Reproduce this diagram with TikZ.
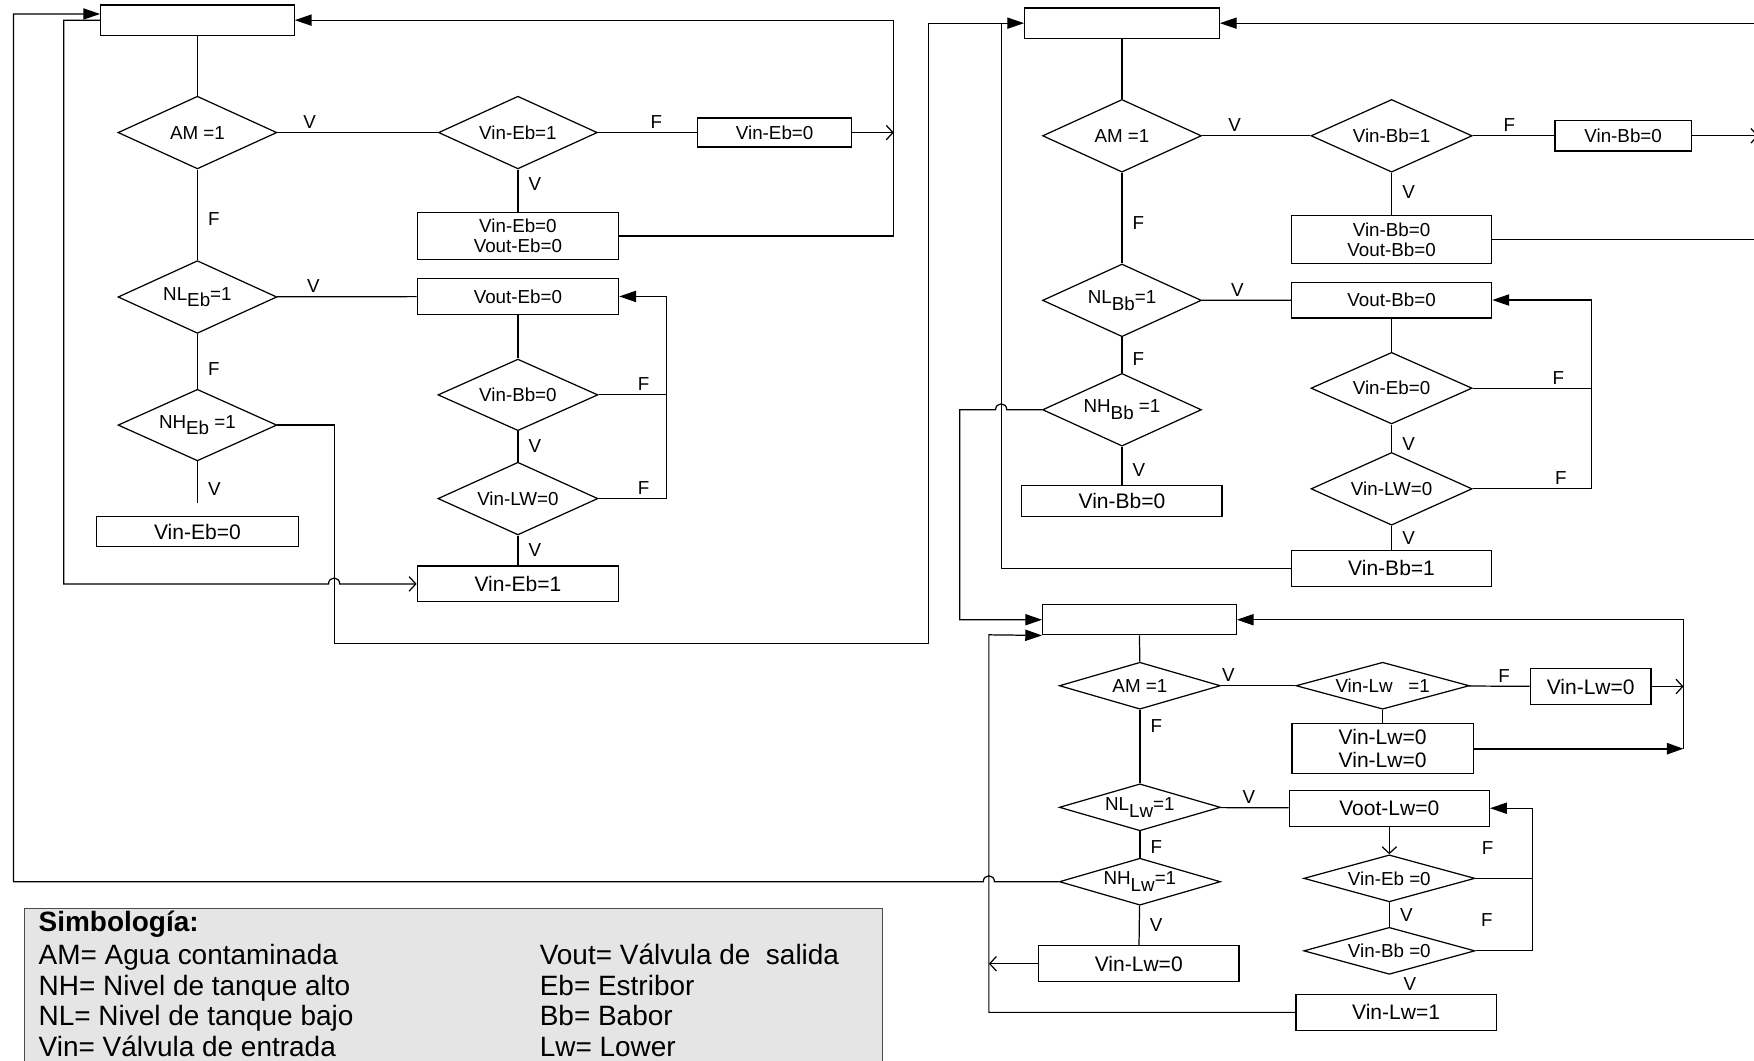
\documentclass[tikz,border=0pt]{standalone}
\usepackage{fontspec}
\setmainfont{Liberation Sans}
\usetikzlibrary{arrows.meta,positioning,calc,shapes.geometric}
\newcommand{\sml}{\fontsize{8.4pt}{9pt}\selectfont}
\newcommand{\bigtxt}{\fontsize{9.4pt}{10.5pt}\selectfont}
\newcommand{\legfnt}{\fontsize{12.5pt}{13.75pt}\selectfont}
\newcommand{\sbx}[1]{\raisebox{-3pt}{#1}}

\begin{document}
\begin{tikzpicture}[x=0.5pt,y=-0.5pt,line width=0.55pt,
  box/.style={draw,inner sep=0pt,align=center,font=\sml},
  bbox/.style={box,font=\bigtxt},
  dia/.style={draw,diamond,aspect=2.2,inner sep=0pt,align=center,font=\sml},
  flat/.style={dia,aspect=3.5},
  sz/.style 2 args={minimum width=#1*0.5pt,minimum height=#2*0.5pt},
  lbl/.style={inner sep=1.5pt,font=\sml},
  legtx/.style={inner sep=0pt,font=\legfnt,anchor=base west},
  tri/.style={-{Triangle[length=7.5pt,width=5pt]}},
  opn/.style={-{Straight Barb[length=3pt,width=6.5pt]}}]
\useasboundingbox (0,0) rectangle (1568,948);

% Estribor
\node[box,sz={173}{27}] (ebtop) at (176.5,18) {};
\node[dia,sz={142}{65}] (ebam) at (176.5,118.5) {AM =1};
\node[dia,sz={142}{65}] (ebvin) at (463,118.5) {Vin-Eb=1};
\node[box,sz={138}{26}] (ebcl) at (692.5,118.5) {Vin-Eb=0};
\node[box,sz={180}{42}] (ebclo) at (463,211) {Vin-Eb=0\\Vout-Eb=0};
\node[dia,sz={142}{65}] (ebnl) at (176.5,265.5) {NL\sbx{Eb}=1};
\node[box,sz={180}{32}] (ebvout) at (463,265) {Vout-Eb=0};
\node[dia,sz={142}{64}] (ebnh) at (176.5,380) {NH\sbx{Eb} =1};
\node[bbox,sz={180}{27}] (ebshut) at (176.5,475.3) {Vin-Eb=0};
\node[dia,sz={143}{64}] (ebvbb) at (463,353) {Vin-Bb=0};
\node[dia,sz={143}{65}] (ebvlw) at (463,445.7) {Vin-LW=0};
\node[bbox,sz={180}{32}] (ebopen) at (463,522) {Vin-Eb=1};

\coordinate (outl) at (12,12.5);
\coordinate (ebin) at (57,522);
\coordinate (ebjmp) at (298.7,522);
\coordinate (ebret) at (799,18);
\coordinate (ebfb) at (596,265);
\coordinate (ebnhv) at (176.5,450);
\coordinate (ebx) at (298.7,575);
\coordinate (bbin) at (830,20.7);

% Babor
\node[box,sz={174}{27}] (bbtop) at (1003,20.7) {};
\node[dia,sz={142}{65}] (bbam) at (1003,121.4) {AM =1};
\node[dia,sz={144}{65}] (bbvin) at (1244,121.4) {Vin-Bb=1};
\node[box,sz={122}{27}] (bbcl) at (1451,121.4) {Vin-Bb=0};
\node[box,sz={179}{43}] (bbclo) at (1244,214) {Vin-Bb=0\\Vout-Bb=0};
\node[dia,sz={142}{65}] (bbnl) at (1003,268.5) {NL\sbx{Bb}=1};
\node[box,sz={179}{32}] (bbvout) at (1244,268.2) {Vout-Bb=0};
\node[dia,sz={142}{65}] (bbnh) at (1003,366.3) {NH\sbx{Bb} =1};
\node[bbox,sz={179}{28}] (bbshut) at (1003,448) {Vin-Bb=0};
\node[dia,sz={144}{64}] (bbveb) at (1244,347) {Vin-Eb=0};
\node[dia,sz={144}{65}] (bbvlw) at (1244,437) {Vin-LW=0};
\node[bbox,sz={179}{32}] (bbopen) at (1244,508) {Vin-Bb=1};

\coordinate (bbin2) at (895,20.7);
\coordinate (bbjmp) at (895,366.3);
\coordinate (lwin) at (858,554);
\coordinate (bbfb) at (1423,268.2);
\coordinate (bbR) at (1572,20.7);

% Lower
\node[box,sz={173}{27}] (lwtop) at (1018.6,554) {};
\node[flat,sz={144}{42}] (lwam) at (1019,613) {AM =1};
\node[flat,sz={155}{42}] (lwvin) at (1236,613) {Vin-Lw~~~=1};
\node[bbox,sz={108}{32}] (lwcl) at (1422,613.7) {Vin-Lw=0};
\node[bbox,sz={162}{45}] (lwclo) at (1236,669.3) {Vin-Lw=0\\Vin-Lw=0};
\node[flat,sz={144}{42}] (lwnl) at (1019,721.7) {NL\sbx{Lw}=1};
\node[bbox,sz={179}{32}] (lwvout) at (1242,722.5) {Voot-Lw=0};
\node[flat,sz={144}{42}] (lwnh) at (1019,788.2) {NH\sbx{Lw}=1};
\node[bbox,sz={179}{32}] (lwshut) at (1018,861.5) {Vin-Lw=0};
\node[flat,sz={153}{42}] (lwveb) at (1242,785.2) {Vin-Eb =0};
\node[flat,sz={153}{42}] (lwvbb) at (1242,850) {Vin-Bb =0};
\node[bbox,sz={179}{32}] (lwopen) at (1248,905) {Vin-Lw=1};

\coordinate (lwret) at (884,567.5);
\coordinate (lwjmp) at (884,788.2);
\coordinate (lwR) at (1505,554);
\coordinate (lwfb) at (1370,722.5);

% Estribor connectors
\draw (ebtop) -- (ebam);
\draw (ebam) -- node[lbl,above,pos=0.2]{V} (ebvin);
\draw (ebvin) -- node[lbl,above,pos=0.59]{F} (ebcl);
\draw[opn] (ebcl) -- (ebcl -| ebret);
\draw[tri] (ebclo) -| (ebret) -- (ebtop);
\draw (ebvin) -- node[lbl,right=3pt,pos=0.35]{V} (ebclo);
\draw (ebam) -- node[lbl,right=3pt,pos=0.55]{F} (ebnl);
\draw (ebnl) -- node[lbl,above,pos=0.26]{V} (ebvout);
\draw (ebnl) -- node[lbl,right=3pt,pos=0.65]{F} (ebnh);
\draw (ebnh) -- node[lbl,right=3pt,pos=0.65]{V} (ebnhv);
\draw (ebvout) -- (ebvbb);
\draw (ebvbb) -- node[lbl,right=3pt]{V} (ebvlw);
\draw (ebvlw) -- node[lbl,right=3pt]{V} (ebopen);
\draw (ebvbb) -- node[lbl,above,pos=0.66]{F} (ebvbb -| ebfb);
\draw[tri] (ebvlw) -| node[lbl,above,pos=0.33]{F} (ebfb) -- (ebvout);
\draw[opn] (ebtop.west) -| (ebin) -- ($(ebjmp)+(-5,0)$) .. controls ($(ebjmp)+(-5,-7)$) and ($(ebjmp)+(5,-7)$) .. ($(ebjmp)+(5,0)$) -- (ebopen);
\draw[tri] (ebnh) -| (ebx) -| (bbin) -- (bbtop);
\draw[tri] (lwnh) -- ($(lwjmp)+(5,0)$) .. controls ($(lwjmp)+(5,-7)$) and ($(lwjmp)+(-5,-7)$) .. ($(lwjmp)+(-5,0)$) -| (outl) -- (ebtop.west |- outl);

% Babor connectors
\draw (bbtop) -- (bbam);
\draw (bbam) -- node[lbl,above,pos=0.3]{V} (bbvin);
\draw (bbvin) -- node[lbl,above,pos=0.45]{F} (bbcl);
\draw[opn] (bbcl) -- (bbcl -| bbR);
\draw (bbclo) -- (bbclo -| bbR);
\draw[tri] (bbR) -- (bbtop);
\draw (bbvin) -- node[lbl,right=3pt,pos=0.45]{V} (bbclo);
\draw (bbam) -- node[lbl,right=3pt,pos=0.55]{F} (bbnl);
\draw (bbnl) -- node[lbl,above,pos=0.4]{V} (bbvout);
\draw (bbnl) -- node[lbl,right=3pt,pos=0.6]{F} (bbnh);
\draw (bbnh) -- node[lbl,right=3pt,pos=0.6]{V} (bbshut);
\draw (bbvout) -- (bbveb);
\draw (bbveb) -- node[lbl,right=3pt,pos=0.7]{V} (bbvlw);
\draw (bbvlw) -- node[lbl,right=3pt]{V} (bbopen);
\draw (bbveb) -- node[lbl,above,pos=0.72]{F} (bbveb -| bbfb);
\draw[tri] (bbvlw) -| node[lbl,above,pos=0.37]{F} (bbfb) -- (bbvout);
\draw (bbopen) -| (bbin2);
\draw[tri] (bbnh) -- ($(bbjmp)+(5,0)$) .. controls ($(bbjmp)+(5,-7)$) and ($(bbjmp)+(-5,-7)$) .. ($(bbjmp)+(-5,0)$) -| (lwin) -- (lwtop);

% Lower connectors
\draw (lwtop) -- (lwam);
\draw (lwam) -- node[lbl,above,pos=0.1]{V} (lwvin);
\draw (lwvin) -- node[lbl,above,pos=0.58]{F} (lwcl);
\draw[opn] (lwcl) -- (lwcl -| lwR);
\draw[tri,line width=1pt] (lwclo) -- (lwclo -| lwR);
\draw[tri] (lwclo -| lwR) -- (lwR) -- (lwtop);
\draw (lwvin) -- (lwclo);
\draw (lwam) -- node[lbl,right=3pt,pos=0.22]{F} (lwnl);
\draw (lwnl) -- node[lbl,above,pos=0.42]{V} (lwvout);
\draw (lwnl) -- node[lbl,right=3pt,pos=0.6]{F} (lwnh);
\draw (lwnh) -- node[lbl,right=3pt]{V} (lwshut);
\draw[opn] (lwvout) -- (lwveb);
\draw (lwveb) -- node[lbl,right=3pt]{V} (lwvbb);
\path (lwvbb) -- node[lbl,right=3pt]{V} (lwopen);
\draw (lwveb) -- node[lbl,above=9pt,pos=0.21]{F} (lwveb -| lwfb);
\draw[tri] (lwvbb) -| node[lbl,above=9pt,pos=0.1]{F} (lwfb) -- (lwvout);
\draw[tri] (lwopen) -| (lwret) -- (lwtop.south west);
\draw[opn] (lwshut) -- (lwshut -| lwret);

% Simbologia
\node[draw=black!70,fill=gray!20,sz={767}{140}] (legend) at (405.5,882) {};
\node[legtx] (legttl) at (34,833) {\textbf{Simbología:}};
\node[legtx] (legam) at (34,862) {AM= Agua contaminada};
\node[legtx] (legnh) at (34,889.5) {NH= Nivel de tanque alto};
\node[legtx] (legnl) at (34,917) {NL= Nivel de tanque bajo};
\node[legtx] (legvin) at (34,944.5) {Vin= Válvula de entrada};
\node[legtx] (legvout) at (482,862) {Vout= Válvula de~ salida};
\node[legtx] (legeb) at (482,889.5) {Eb= Estribor};
\node[legtx] (legbb) at (482,917) {Bb= Babor};
\node[legtx] (leglw) at (482,944.5) {Lw= Lower};
\end{tikzpicture}
\end{document}
